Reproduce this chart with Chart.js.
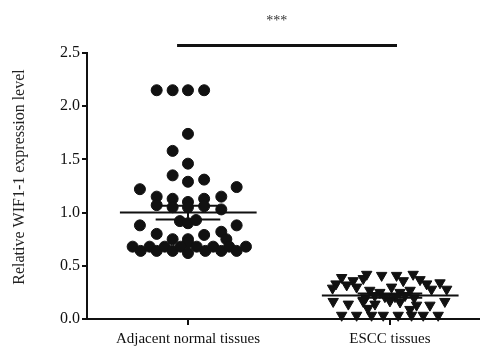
<!DOCTYPE html>
<html>
<head>
<meta charset="utf-8">
<script src="https://cdn.jsdelivr.net/npm/chart.js@4/dist/chart.umd.min.js"></script>
<style>
  html, body { margin: 0; padding: 0; background: #fff; }
  canvas { display: block; }
</style>
</head>
<body>
<canvas id="wifChart" width="480" height="350"></canvas>
<script>
const groups = ['Adjacent normal tissues', 'ESCC tissues'];
const yTicks = [0, 0.5, 1.0, 1.5, 2.0, 2.5];
const yTitle = 'Relative WIF1-1 expression level';

// scatter columns: offset from the group centre, and the measured value
const normalOffset = [
  -0.155, -0.076, 0, 0.08,
  0, -0.076, 0,
  -0.076, 0, 0.08,
  -0.238, 0.241,
  -0.155, -0.076, 0, 0.08, 0.165,
  -0.155, -0.076, 0, 0.08, 0.165,
  -0.04, 0, 0.04,
  -0.238, 0.241,
  -0.155, -0.076, 0, 0.08, 0.165, 0.19,
  0,
  -0.274, -0.234, -0.19, -0.155, -0.115, -0.076, -0.036, 0, 0.043, 0.086, 0.125, 0.165, 0.204, 0.241, 0.287
];
const normalValues = [
  2.15, 2.15, 2.15, 2.15,
  1.74, 1.58, 1.46,
  1.35, 1.29, 1.31,
  1.22, 1.24,
  1.15, 1.13, 1.10, 1.13, 1.15,
  1.07, 1.05, 1.05, 1.06, 1.03,
  0.92, 0.90, 0.93,
  0.88, 0.88,
  0.80, 0.75, 0.75, 0.79, 0.82, 0.75,
  0.72,
  0.68, 0.64, 0.68, 0.64, 0.68, 0.64, 0.68, 0.62, 0.68, 0.64, 0.68, 0.64, 0.68, 0.64, 0.68
];

const esccOffset = [
  -0.115, -0.041, 0.033, 0.115,
  -0.239, -0.182, -0.132, 0.066, 0.149, 0.182, 0.248,
  -0.267, -0.214, -0.165, -0.284, 0.206, 0.281, 0.008,
  -0.1, -0.05, 0.05, 0.1, -0.075, -0.025, 0.025, 0.075, -0.12, 0.12, 0,
  -0.281, -0.206, -0.132, -0.074, -0.109, 0.05, 0.132, 0.198, 0.272, 0.099,
  -0.239, -0.165, -0.091, -0.033, 0.041, 0.107, 0.165, 0.239
];
const esccValues = [
  0.42, 0.41, 0.41, 0.42,
  0.39, 0.36, 0.38, 0.36, 0.37, 0.33, 0.34,
  0.33, 0.32, 0.30, 0.29, 0.28, 0.28, 0.30,
  0.27, 0.25, 0.25, 0.27, 0.22, 0.21, 0.21, 0.22, 0.20, 0.20, 0.17,
  0.165, 0.14, 0.165, 0.14, 0.10, 0.16, 0.13, 0.13, 0.165, 0.09,
  0.035, 0.035, 0.035, 0.035, 0.035, 0.035, 0.035, 0.035
];

const groupMeans = [1.00, 0.22];
const groupSem = [0.065, 0.02];
const sigValue = 2.57;
const sigLabel = '***';

const serif = '"Liberation Serif", "DejaVu Serif", serif';

const toPoints = (centre, offsets, values) =>
  values.map((v, i) => ({ x: centre + offsets[i], y: v }));

const seg = (x1, x2, y) => [{ x: x1, y: y }, { x: x2, y: y }];

const lineSet = (data, width) => ({
  type: 'line',
  data: data,
  borderColor: '#111',
  borderWidth: width,
  pointRadius: 0,
  fill: false,
  clip: false
});

const datasets = [
  {
    type: 'scatter',
    data: toPoints(1, normalOffset, normalValues),
    backgroundColor: '#111',
    borderColor: '#111',
    pointRadius: 5.5,
    pointStyle: 'circle',
    clip: false
  },
  {
    type: 'scatter',
    data: toPoints(2, esccOffset, esccValues),
    backgroundColor: '#111',
    borderColor: '#111',
    pointRadius: 6,
    pointStyle: 'triangle',
    rotation: 180,
    clip: false
  }
];

// mean and SEM marks
groupMeans.forEach((m, i) => {
  const c = i + 1;
  datasets.push(lineSet(seg(c - 0.337, c + 0.34, m), 2));
  datasets.push(lineSet(seg(c - 0.16, c + 0.16, m + groupSem[i]), 2));
  datasets.push(lineSet(seg(c - 0.16, c + 0.16, m - groupSem[i]), 2));
  datasets.push(lineSet([{ x: c, y: m - groupSem[i] }, { x: c, y: m + groupSem[i] }], 2));
});

// significance bar
datasets.push(lineSet(seg(0.946, 2.035, sigValue), 3));

const extraText = {
  id: 'extraText',
  afterDraw(chart) {
    const { ctx, scales } = chart;
    ctx.save();
    ctx.fillStyle = '#333';
    ctx.font = '14px ' + serif;
    ctx.textAlign = 'center';
    ctx.textBaseline = 'middle';
    ctx.fillText(sigLabel, scales.x.getPixelForValue(1.44), scales.y.getPixelForValue(2.8));
    ctx.fillStyle = '#222';
    ctx.font = '16px ' + serif;
    ctx.translate(20, 177);
    ctx.rotate(-Math.PI / 2);
    ctx.fillText(yTitle, 0, 0);
    ctx.restore();
  }
};

new Chart(document.getElementById('wifChart'), {
  type: 'scatter',
  data: { datasets: datasets },
  options: {
    responsive: false,
    animation: false,
    layout: { autoPadding: false, padding: { top: 53, right: 0, left: 0, bottom: 0 } },
    plugins: { legend: { display: false }, tooltip: { enabled: false } },
    scales: {
      x: {
        type: 'linear',
        min: 0.5,
        max: 2.446,
        afterBuildTicks: (axis) => { axis.ticks = [{ value: 1 }, { value: 2 }]; },
        afterFit: (axis) => { axis.height = 31; },
        ticks: {
          callback: (v) => groups[v - 1],
          color: '#111',
          font: { family: serif, size: 15 },
          padding: 5,
          maxRotation: 0
        },
        grid: { display: true, drawOnChartArea: false, color: '#111', lineWidth: 2, tickLength: 6 },
        border: { color: '#111', width: 2 }
      },
      y: {
        min: 0,
        max: 2.5,
        afterBuildTicks: (axis) => { axis.ticks = yTicks.map(v => ({ value: v })); },
        afterFit: (axis) => { axis.width = 87; },
        ticks: {
          callback: (v) => v.toFixed(1),
          color: '#111',
          font: { family: serif, size: 16 },
          padding: 2
        },
        grid: { display: true, drawOnChartArea: false, color: '#111', lineWidth: 2, tickLength: 5 },
        border: { color: '#111', width: 2 }
      }
    }
  },
  plugins: [extraText]
});
</script>
</body>
</html>
